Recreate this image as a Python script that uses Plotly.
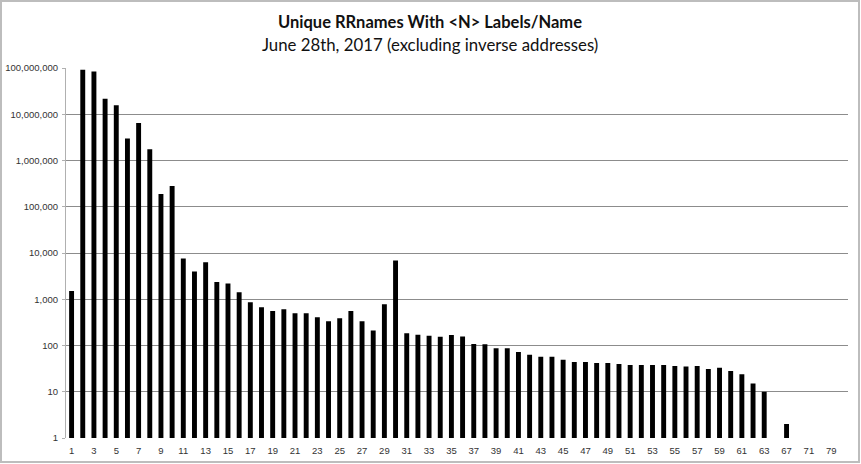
import plotly.graph_objects as go

# number of labels per name (x categories) and count of unique RRnames
labels = [str(n) for n in range(1, 64)] + ["65", "67", "69", "71", "75", "79", "81"]
counts = [
    1500, 92000000, 84000000, 21500000, 15700000, 3000000, 6500000, 1750000, 188000, 280000,
    7600, 4000, 6300, 2350, 2200, 1420, 860, 670, 560, 610,
    500, 500, 410, 335, 390, 555, 335, 212, 780, 6900,
    185, 170, 162, 154, 168, 156, 108, 107, 87, 87,
    72, 63, 57, 57, 49, 44, 44, 42, 42, 40,
    38, 38, 38, 38, 36, 35, 36, 31, 33, 28,
    24, 15, 10,
    1, 2, 1, 1, 1, 1, 1,
]

x_tick_labels = labels[::2]
y_tick_vals = [1, 10, 100, 1000, 10000, 100000, 1000000, 10000000, 100000000]
y_tick_text = [f"{v:,}" for v in y_tick_vals]

title = "Unique RRnames With &lt;N&gt; Labels/Name"
subtitle = "June 28th, 2017 (excluding inverse addresses)"

fig = go.Figure(go.Bar(x=labels, y=counts, marker_color="black", marker_line_width=0))

W, H = 861, 464
L, R, T, B = 66, 13, 68, 26
pw, ph = W - L - R, H - T - B


def py(pix):
    # pixel row from top of the figure -> paper y
    return (H - B - pix) / ph


fig.update_layout(
    width=W,
    height=H,
    margin=dict(l=L, r=R, t=T, b=B, autoexpand=False),
    paper_bgcolor="white",
    plot_bgcolor="white",
    bargap=0.56,
    showlegend=False,
    font=dict(family="Lato, Open Sans, sans-serif", color="#222"),
    xaxis=dict(
        type="category",
        tickvals=x_tick_labels,
        ticktext=x_tick_labels,
        tickangle=0,
        tickfont=dict(size=9.5, family="Liberation Sans", color="#333"),
        ticklabelstandoff=5,
        showgrid=False,
        showline=False,
        ticks="",
        automargin=False,
    ),
    yaxis=dict(
        type="log",
        range=[0, 8],
        tickvals=y_tick_vals,
        ticktext=y_tick_text,
        tickfont=dict(size=9.5, family="Liberation Sans", color="#333"),
        ticklabelstandoff=2,
        showgrid=True,
        gridcolor="#8c8c8c",
        gridwidth=1,
        showline=True,
        linecolor="#b0b0b0",
        ticks="outside",
        ticklen=3,
        tickcolor="#b0b0b0",
        zeroline=False,
        automargin=False,
    ),
    annotations=[
        dict(text=f"<b>{title}</b>", x=(430 - L) / pw, y=py(22), xref="paper", yref="paper",
             xanchor="center", yanchor="middle", showarrow=False,
             font=dict(size=16.5, color="#111")),
        dict(text=subtitle, x=(430 - L) / pw, y=py(44), xref="paper", yref="paper",
             xanchor="center", yanchor="middle", showarrow=False,
             font=dict(size=16.8, color="#111")),
    ],
    shapes=[
        dict(
            type="rect",
            xref="paper", yref="paper",
            x0=-(L - 1) / pw, x1=1 + (R - 2) / pw,
            y0=-(B - 2) / ph, y1=1 + (T - 1) / ph,
            line=dict(color="#bdbdbd", width=2),
            fillcolor="rgba(0,0,0,0)",
            layer="above",
        )
    ],
)

fig.write_html("out.html", config={"displayModeBar": False},
               post_script="document.body.style.margin='0';")
